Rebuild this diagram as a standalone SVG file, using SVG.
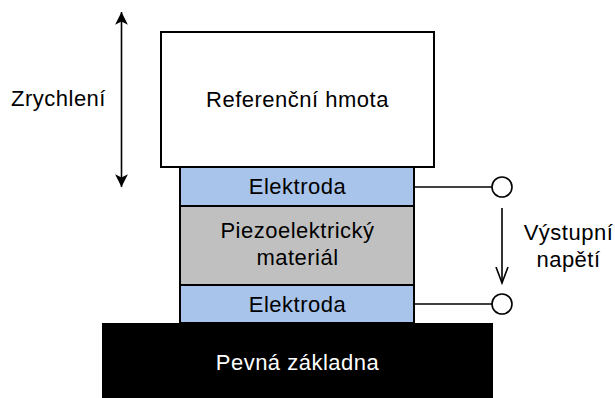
<svg xmlns="http://www.w3.org/2000/svg" width="615" height="398" viewBox="0 0 615 398">
<style>
text{font-family:"Liberation Sans",Arial,sans-serif;font-size:22px;letter-spacing:0.5px;fill:#000;text-anchor:middle}
.box{stroke:#000;stroke-width:2}
.el{fill:#a9c4eb}
.ln{stroke:#000;stroke-width:1.6;fill:none}
</style>
<defs>
<marker id="blk" viewBox="0 0 16 20" refX="16" refY="8" markerWidth="16" markerHeight="16" markerUnits="userSpaceOnUse" orient="auto">
<path d="M0,0 L16,8 L0,16 L4,8 Z" fill="#000"/>
</marker>
<marker id="open" viewBox="0 0 20 20" refX="16" refY="10" markerWidth="20" markerHeight="20" markerUnits="userSpaceOnUse" orient="auto">
<path d="M0,4 L16,10 L0,16" fill="none" stroke="#000" stroke-width="1.6"/>
</marker>
</defs>
<g id="base"><rect x="102" y="323" width="391" height="76" fill="#000"/><text x="297.5" y="370" style="fill:#fff">Pevná základna</text></g>
<g id="mass"><rect class="box" x="161" y="32" width="273" height="135" fill="#fff"/><text x="297.5" y="107">Referenční hmota</text></g>
<g id="electrode-top"><rect class="box el" x="180" y="167" width="234" height="39"/><text x="297.5" y="194">Elektroda</text></g>
<g id="piezo"><rect class="box" x="180" y="206" width="234" height="79" fill="#c0c0c0"/><text x="297.5" y="238">Piezoelektrický</text><text x="297.5" y="265">materiál</text></g>
<g id="electrode-bottom"><rect class="box el" x="180" y="285" width="234" height="38"/><text x="297.5" y="311.5">Elektroda</text></g>
<g id="terminal-top"><circle cx="502" cy="187" r="10" fill="#fff" stroke="#000" stroke-width="1.6"/></g>
<g id="terminal-bottom"><circle cx="502" cy="304" r="10" fill="#fff" stroke="#000" stroke-width="1.6"/></g>
<g id="label-accel"><text x="58.5" y="106">Zrychlení</text></g>
<g id="label-voltage"><text x="568.5" y="240">Výstupní</text><text x="568.5" y="267">napětí</text></g>
<g id="connectors">
<line class="ln" x1="121.5" y1="100" x2="121.5" y2="12" marker-end="url(#blk)"/>
<line class="ln" x1="121.5" y1="100" x2="121.5" y2="187" marker-end="url(#blk)"/>
<line class="ln" x1="414" y1="187" x2="492" y2="187"/>
<line class="ln" x1="414" y1="304" x2="492" y2="304"/>
<line class="ln" x1="502" y1="208" x2="502" y2="283" marker-end="url(#open)"/>
</g>
</svg>
